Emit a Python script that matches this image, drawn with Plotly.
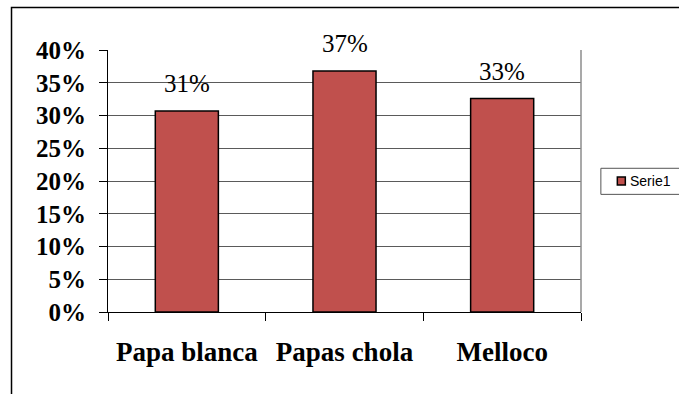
import plotly.graph_objects as go

# Share of each crop
categories = ["Papa blanca", "Papas chola", "Melloco"]
values = [0.307, 0.368, 0.326]
series_name = "Serie1"
y_ticks = [0, 0.05, 0.10, 0.15, 0.20, 0.25, 0.30, 0.35, 0.40]

bar_color = "#C0504D"
grid_color = "#5a5a5a"
serif = "'Liberation Serif', 'Times New Roman', 'DejaVu Serif', serif"

fig = go.Figure()
fig.add_trace(go.Bar(
    x=categories,
    y=values,
    name=series_name,
    width=0.4,
    marker=dict(color=bar_color, line=dict(color="black", width=1.5)),
    showlegend=False,
))

# Percentage labels above each bar, taken from the same values
for cat, val in zip(categories, values):
    fig.add_annotation(
        x=cat, y=val, xref="x", yref="y",
        text=f"{val:.0%}", showarrow=False,
        yanchor="middle", yshift=27,
        font=dict(family=serif, size=25, color="black"),
    )

# Outer chart frame and right edge of the plot area
fig.add_shape(type="rect", xref="paper", yref="paper",
              x0=-0.204, x1=1.3, y0=-0.5, y1=1.162,
              line=dict(color="black", width=1.5), fillcolor="rgba(0,0,0,0)",
              layer="below")
fig.add_shape(type="line", xref="paper", yref="paper",
              x0=1, x1=1, y0=0, y1=1,
              line=dict(color="#8c8c8c", width=1.5))

# Compact legend box to the right of the plot
fig.add_shape(type="rect", xref="paper", yref="paper",
              x0=1.042, x1=1.3, y0=0.449, y1=0.5485,
              line=dict(color="#555555", width=1), fillcolor="white")
fig.add_shape(type="rect", xref="paper", yref="paper",
              x0=1.0768, x1=1.0937, y0=0.4847, y1=0.5153,
              line=dict(color="black", width=1.5), fillcolor=bar_color)
fig.add_annotation(
    x=1.1001, y=0.5, xref="paper", yref="paper",
    xanchor="left", yanchor="middle", showarrow=False,
    text=series_name,
    font=dict(family="Liberation Sans, Arial, sans-serif", size=14, color="black"),
)

fig.update_layout(
    width=679, height=394,
    margin=dict(l=108, r=98, t=50, b=82, autoexpand=False),
    plot_bgcolor="white", paper_bgcolor="white",
    bargap=0.6,
    xaxis=dict(
        type="category",
        range=[-0.5, 2.5],
        showline=True, linecolor="black", linewidth=1,
        ticks="outside", ticklen=8, tickcolor="black",
        tickson="boundaries",
        showgrid=False,
        ticklabelstandoff=16,
        tickfont=dict(family=serif, size=27, color="black", weight="bold"),
    ),
    yaxis=dict(
        range=[0, 0.4],
        tickvals=y_ticks,
        tickformat=".0%",
        showline=True, linecolor="black", linewidth=1,
        ticks="outside", ticklen=8, tickcolor="black",
        showgrid=True, gridcolor=grid_color, gridwidth=1,
        zeroline=False,
        ticklabelstandoff=8,
        tickfont=dict(family=serif, size=25, color="black", weight="bold"),
    ),
)

fig.write_html("out.html")
